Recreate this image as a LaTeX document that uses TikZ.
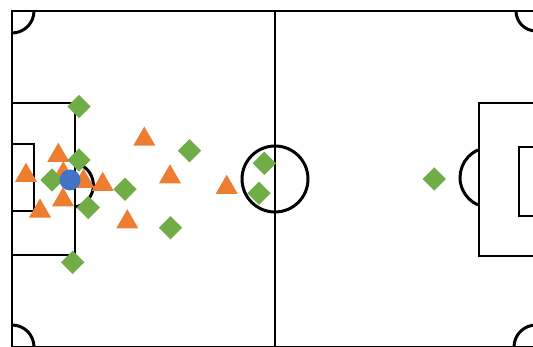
\documentclass[tikz,border=0pt]{standalone}
\usetikzlibrary{shapes.geometric}
\definecolor{markgreen}{HTML}{70AD47}
\definecolor{markorange}{HTML}{ED7D31}
\definecolor{markblue}{HTML}{4472C4}

\begin{document}
\begin{tikzpicture}[x=1pt,y=-1pt,
    line/.style={line width=2.4pt},
    boxline/.style={line width=2.2pt},
    curve/.style={line width=3pt},
    mate/.style={diamond,fill=markgreen,inner sep=0pt,minimum size=23.5pt},
    rival/.style={regular polygon,regular polygon sides=3,fill=markorange,inner sep=0pt,minimum size=25.5pt},
    ball/.style={circle,fill=markblue,inner sep=0pt,minimum size=21pt}]
    \useasboundingbox (0,0) rectangle (533,347);
    \clip (0,0) rectangle (533,347);
    \fill[white] (0,0) rectangle (533,347);
    % pitch
    \draw[line] (12,11) rectangle (536,347);
    \draw[line] (275,11) -- (275,347);
    \draw[curve] (275,179) circle (33);
    \draw[boxline] (12,103) rectangle (75,255);
    \draw[boxline] (12,144) rectangle (34,211);
    \draw[boxline] (479,103) rectangle (536,256);
    \draw[boxline] (519,147) rectangle (536,216);
    \draw[curve] (75,163) arc[start angle=-79.7,end angle=79.7,radius=22.4];
    \draw[curve] (478,150) arc[start angle=246.4,end angle=113.6,radius=30];
    \draw[curve] (34,11) arc[start angle=0,end angle=90,radius=22];
    \draw[curve] (516,11) arc[start angle=180,end angle=90,radius=20];
    \draw[curve] (12,325) arc[start angle=270,end angle=360,radius=22];
    \draw[curve] (514,347) arc[start angle=180,end angle=270,radius=22];
    % opponents
    \node[rival] (r1) at (58.3,155.5) {};
    \node[rival] (r2) at (26,175.5) {};
    \node[rival] (r3) at (63.3,174) {};
    \node[rival] (r4) at (83.5,181.5) {};
    \node[rival] (r5) at (102.7,184.5) {};
    \node[rival] (r6) at (63,200) {};
    \node[rival] (r7) at (40,211.2) {};
    \node[rival] (r8) at (144.3,139.3) {};
    \node[rival] (r9) at (170,177) {};
    \node[rival] (r10) at (127.3,222) {};
    \node[rival] (r11) at (226.7,187.5) {};
    % team
    \node[mate] (m1) at (79,106.5) {};
    \node[mate] (m2) at (79,160) {};
    \node[mate] (m3) at (52,180) {};
    \node[mate] (m4) at (88.3,207.5) {};
    \node[mate] (m5) at (125,189.3) {};
    \node[mate] (m6) at (189.5,150.7) {};
    \node[mate] (m7) at (170.5,227.7) {};
    \node[mate] (m8) at (72.7,262.3) {};
    \node[mate] (m9) at (264.3,163.3) {};
    \node[mate] (m10) at (259,193.3) {};
    \node[mate] (m11) at (434.3,179) {};
    \node[ball] (b) at (70,180) {};
\end{tikzpicture}
\end{document}
